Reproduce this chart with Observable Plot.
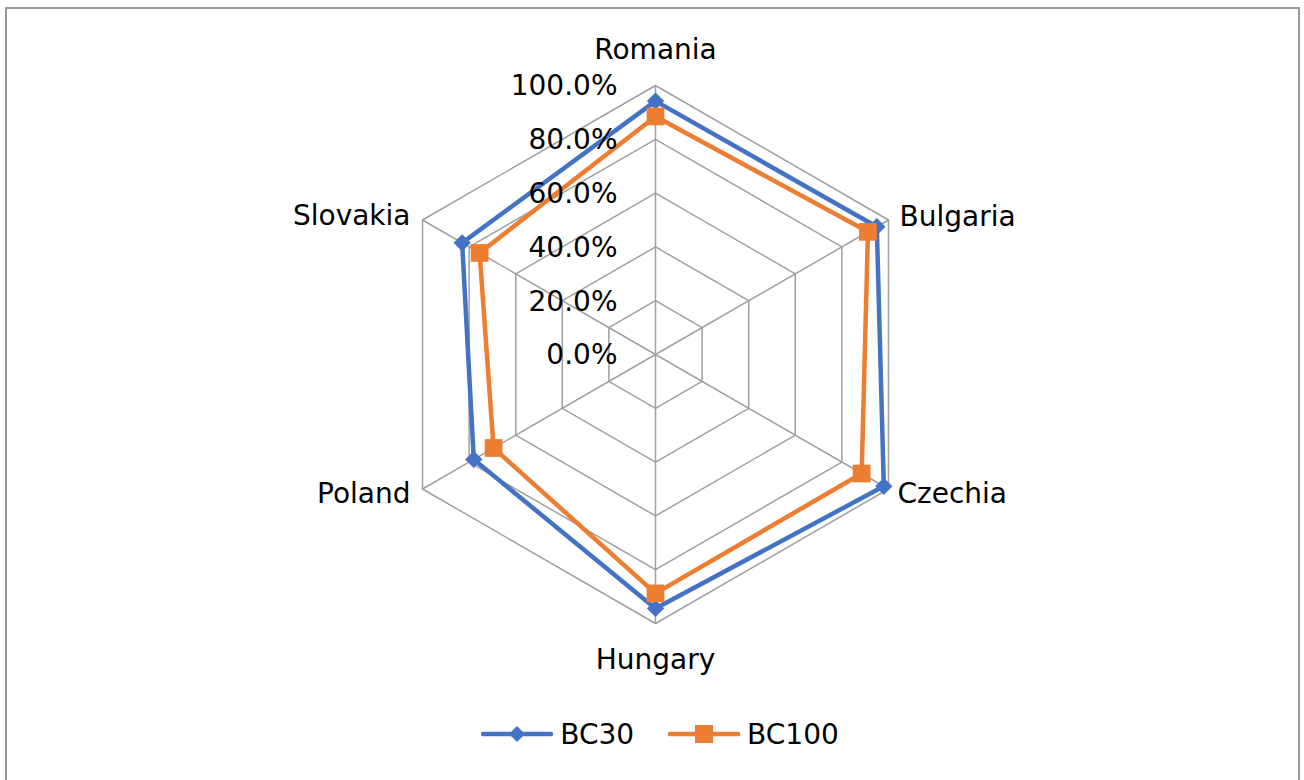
<!DOCTYPE html>
<html>
<head>
<meta charset="utf-8">
<script src="https://cdn.jsdelivr.net/npm/d3@7"></script>
<script src="https://cdn.jsdelivr.net/npm/@observablehq/plot@0.6"></script>
<style>
  html, body { margin: 0; padding: 0; background: #fff; }
  body { width: 1304px; height: 780px; position: relative; overflow: hidden;
         font-family: "DejaVu Sans", sans-serif; }
  #frame { position: absolute; left: 5px; top: 7px; width: 1295px; height: 790px;
           border: 2px solid #999; box-sizing: border-box; pointer-events: none; }
  #chart { position: absolute; left: 0; top: 0; }
  #legend { position: absolute; top: 712px; left: 8px; width: 1304px; height: 44px;
            display: flex; justify-content: center; align-items: center; font-size: 28px; color: #000; }
  .item { display: flex; align-items: center; margin: 0 17px; }
  .item svg { margin-right: 7px; }
</style>
</head>
<body>
<div id="chart"></div>
<div id="legend"></div>
<div id="frame"></div>
<script>
const categories = ["Romania", "Bulgaria", "Czechia", "Hungary", "Poland", "Slovakia"];
const seriesNames = ["BC30", "BC100"];
const bc30 = [0.942, 0.950, 0.980, 0.944, 0.780, 0.830];
const bc100 = [0.885, 0.912, 0.885, 0.888, 0.695, 0.755];
const tickValues = [0, 0.2, 0.4, 0.6, 0.8, 1.0];
const tickLabels = ["0.0%", "20.0%", "40.0%", "60.0%", "80.0%", "100.0%"];
const colors = ["#4472C4", "#ED7D31"];
const symbols = ["diamond2", "square"];

const n = categories.length;
const angle = i => (2 * Math.PI * i) / n;
const px = (v, i) => v * Math.sin(angle(i));
const py = (v, i) => v * Math.cos(angle(i));

// grid rings
const rings = [];
tickValues.slice(1).forEach(t => {
  for (let i = 0; i <= n; i++) rings.push({ring: t, x: px(t, i % n), y: py(t, i % n)});
});
// spokes
const spokes = categories.map((c, i) => ({x1: 0, y1: 0, x2: px(1, i), y2: py(1, i)}));

const seriesData = [bc30, bc100].map((vals, s) =>
  vals.map((v, i) => ({series: seriesNames[s], cat: categories[i], v, x: px(v, i), y: py(v, i)})));

const labelStyle = [
  {anchor: "middle", dx: 0, dy: -35},
  {anchor: "start", dx: 11, dy: -3},
  {anchor: "start", dx: 9, dy: 5},
  {anchor: "middle", dx: 0, dy: 37},
  {anchor: "end", dx: -12, dy: 5},
  {anchor: "end", dx: -12, dy: -4}
];
const catLabels = categories.map((c, i) => ({name: c, x: px(1, i), y: py(1, i), ...labelStyle[i]}));
const ticks = tickValues.map((t, i) => ({x: 0, y: t, label: tickLabels[i]}));

const R = 269, CX = 655, CY = 354;
const FS = 28;
const marks = [
  Plot.line(rings, {x: "x", y: "y", z: "ring", stroke: "#a0a0a0", strokeWidth: 1.5}),
  Plot.link(spokes, {x1: "x1", y1: "y1", x2: "x2", y2: "y2", stroke: "#a0a0a0", strokeWidth: 1.5})
];
seriesData.forEach((d, s) => {
  marks.push(Plot.line(d, {x: "x", y: "y", curve: "linear-closed", stroke: colors[s], strokeWidth: 4.5, strokeLinejoin: "round"}));
  marks.push(Plot.dot(d, {x: "x", y: "y", symbol: () => symbols[s], fill: colors[s], stroke: "none", r: s === 0 ? 7.8 : 10}));
});
marks.push(Plot.text(ticks, {x: "x", y: "y", text: "label", textAnchor: "end", dx: -38, dy: 1, fontSize: FS, fill: "#000"}));
catLabels.forEach(l => {
  marks.push(Plot.text([l], {x: "x", y: "y", text: "name", textAnchor: l.anchor, dx: l.dx, dy: l.dy, fontSize: FS, fill: "#000"}));
});

const plot = Plot.plot({
  width: 1304,
  height: 705,
  margin: 0,
  style: {fontFamily: "'DejaVu Sans', sans-serif", background: "transparent", overflow: "visible"},
  x: {domain: [-1, 1], range: [CX - R, CX + R], axis: null},
  y: {domain: [-1, 1], range: [CY + R, CY - R], axis: null},
  marks
});
document.getElementById("chart").appendChild(plot);

// legend
const legend = document.getElementById("legend");
seriesNames.forEach((name, s) => {
  const item = document.createElement("div");
  item.className = "item";
  const shape = s === 0
    ? `<path d="M36,11 L44,19 L36,27 L28,19 Z" fill="${colors[s]}"/>`
    : `<rect x="27" y="10" width="18" height="18" fill="${colors[s]}"/>`;
  item.innerHTML = `<svg width="72" height="38"><line x1="2" y1="19" x2="70" y2="19" stroke="${colors[s]}" stroke-width="4.5" stroke-linecap="round"/>${shape}</svg><span>${name}</span>`;
  legend.appendChild(item);
});
</script>
</body>
</html>
